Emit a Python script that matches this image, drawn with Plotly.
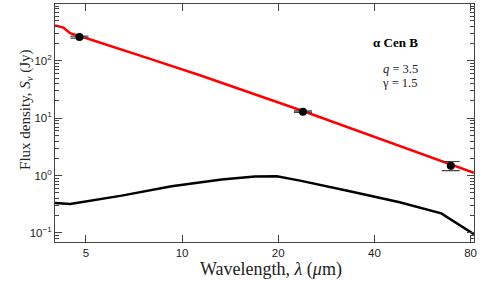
import plotly.graph_objects as go

# Model (red): star + disc
red_wl = [4.0, 4.25, 4.46, 5.08, 7.94, 11.37, 24.0, 48.0, 80.0, 82.0]
red_flux = [415, 378, 304, 243, 108, 56.1, 13.2, 3.26, 1.17, 1.12]

# Disc model (black)
blk_wl = [4.0, 4.46, 6.47, 9.27, 13.3, 16.9, 19.8, 23.4, 33.5, 48.0, 64.8, 70.5, 80.5, 82.0]
blk_flux = [0.334, 0.321, 0.448, 0.651, 0.852, 0.96, 0.973, 0.818, 0.532, 0.342, 0.220, 0.164, 0.102, 0.095]

# Observations
obs_wl = [4.77, 23.9, 69.4]
obs_flux = [259, 13.0, 1.49]
obs_err = [10, 0.4, 0.27]

xticks = [5, 10, 20, 40, 80]
yticks = [0.1, 1, 10, 100]
yticktext = ["10<sup>−1</sup>", "10<sup>0</sup>", "10<sup>1</sup>", "10<sup>2</sup>"]

fig = go.Figure()
fig.add_trace(go.Scatter(x=blk_wl, y=blk_flux, mode="lines",
                         line=dict(color="black", width=2.5), showlegend=False))
fig.add_trace(go.Scatter(x=red_wl, y=red_flux, mode="lines",
                         line=dict(color="#ff0000", width=2.5), showlegend=False))
fig.add_trace(go.Scatter(x=obs_wl, y=obs_flux, mode="markers",
                         marker=dict(color="black", size=8),
                         error_y=dict(type="data", array=obs_err, color="#444444",
                                      thickness=1.2, width=9),
                         showlegend=False))

serif = "Liberation Serif"
sans = "Liberation Sans"

fig.update_layout(
    width=480, height=281,
    margin=dict(l=55, r=6, t=4, b=39),
    paper_bgcolor="white", plot_bgcolor="white",
    xaxis=dict(type="log", range=[0.602, 1.914], tickvals=xticks,
               ticktext=[str(v) for v in xticks], automargin=False,
               ticks="inside", ticklen=7, tickcolor="#444", showgrid=False,
               zeroline=False, showline=True, linecolor="#444", linewidth=1,
               mirror="ticks",
               tickfont=dict(family=sans, size=11.5, color="#222")),
    yaxis=dict(type="log", range=[-1.157, 2.99], tickvals=yticks, ticktext=yticktext,
               automargin=False,
               ticks="inside", ticklen=7, tickcolor="#444", showgrid=False,
               zeroline=False, showline=True, linecolor="#444", linewidth=1,
               mirror="ticks",
               minor=dict(ticks="inside", ticklen=4, tickcolor="#444", showgrid=False,
                          dtick="D1"),
               tickfont=dict(family=sans, size=11.5, color="#222")),
    annotations=[
        dict(x=0.515, y=-0.1176, xref="paper", yref="paper", yanchor="middle",
             text="Wavelength, <i>λ</i> (<i>μ</i>m)", showarrow=False,
             font=dict(family=serif, size=18, color="#222")),
        dict(x=-0.0955, y=0.555, xref="paper", yref="paper", textangle=-90,
             text="Flux density, <i>S</i><sub><i>ν</i></sub> (Jy)", showarrow=False,
             font=dict(family=serif, size=15, color="#222")),
        dict(x=0.871, y=0.878, xref="paper", yref="paper", text="<b>α Cen B</b>",
             showarrow=False, font=dict(family=serif, size=13, color="black")),
        dict(x=0.871, y=0.765, xref="paper", yref="paper", text="<i>q</i> = 3.5",
             showarrow=False, font=dict(family=serif, size=12.5, color="#222")),
        dict(x=0.869, y=0.705, xref="paper", yref="paper", text="γ = 1.5",
             showarrow=False, font=dict(family=serif, size=12.5, color="#222")),
    ],
)

fig.write_html("out.html", config={"displayModeBar": False},
               post_script="document.body.style.margin='0';")
